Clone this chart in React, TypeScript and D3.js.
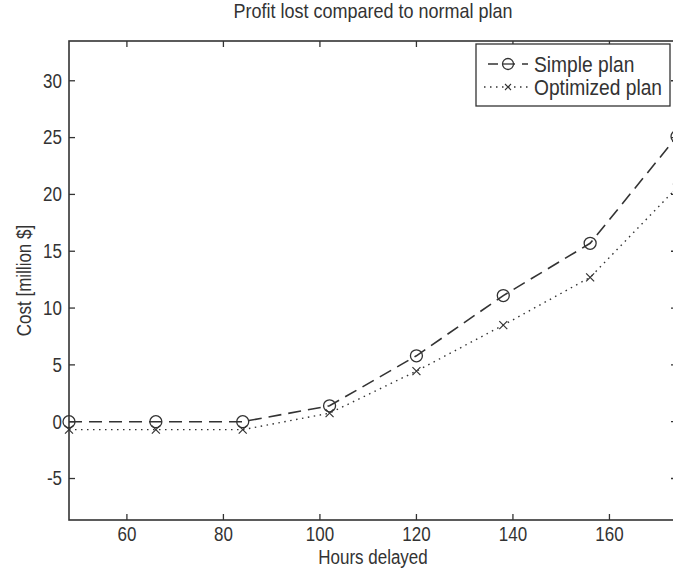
import React from "react";
import * as d3 from "d3";

const hours = [48, 66, 84, 102, 120, 138, 156, 174];
const simplePlan = [0, 0, 0, 1.4, 5.8, 11.1, 15.7, 25.1];
const optimizedPlan = [-0.7, -0.7, -0.7, 0.75, 4.45, 8.5, 12.7, 20.6];
const xTicks = [60, 80, 100, 120, 140, 160];
const yTicks = [-5, 0, 5, 10, 15, 20, 25, 30];
const seriesNames = ["Simple plan", "Optimized plan"];

const width = 673;
const height = 569;
const margin = {left: 69, right: -4, top: 41, bottom: 49};
const font = "'Liberation Sans', Arial, sans-serif";
const ink = "#333";

// MATLAB text looks a bit taller than Arial, stretch it vertically
function T(props: {x: number, y: number, size?: number, anchor?: string, rotate?: number, dy?: string, children: any}) {
    const s = props.size || 17;
    return (
        <text transform={`translate(${props.x},${props.y}) rotate(${props.rotate || 0}) scale(1,1.15)`}
              textAnchor={props.anchor || "start"} dy={props.dy} fontFamily={font} fontSize={s} fill={ink}>
            {props.children}
        </text>
    );
}

function App() {
    const x = d3.scaleLinear().domain([48, 174]).range([margin.left, width - margin.right]);
    const y = d3.scaleLinear().domain([-8.65, 33.5]).range([height - margin.bottom, margin.top]);
    const line = d3.line<number>()
        .x((d, i) => x(hours[i]))
        .y(d => y(d));

    const x0 = x.range()[0], x1 = x.range()[1];
    const y0 = y.range()[0], y1 = y.range()[1];
    const tick = 6;

    // legend box
    const lx = 476, ly = 44, lw = 194, lh = 62;

    return (
        <svg width={width} height={height} style={{position: "absolute", left: 0, top: 0, background: "#fff"}}>
            <rect x={0} y={0} width={width} height={height} fill="#fff"/>
            <T x={(x0 + x1) / 2} y={18} anchor="middle" size={18}>Profit lost compared to normal plan</T>

            {/* ticks on all four sides */}
            {xTicks.map(t => (
                <g key={"x" + t}>
                    <line x1={x(t)} x2={x(t)} y1={y0} y2={y0 - tick} stroke={ink} strokeWidth={1.3}/>
                    <line x1={x(t)} x2={x(t)} y1={y1} y2={y1 + tick} stroke={ink} strokeWidth={1.3}/>
                    <T x={x(t)} y={y0 + 21} anchor="middle">{t}</T>
                </g>
            ))}
            {yTicks.map(t => (
                <g key={"y" + t}>
                    <line x1={x0} x2={x0 + tick} y1={y(t)} y2={y(t)} stroke={ink} strokeWidth={1.3}/>
                    <line x1={x1} x2={x1 - tick} y1={y(t)} y2={y(t)} stroke={ink} strokeWidth={1.3}/>
                    <T x={x0 - 7} y={y(t)} dy="0.35em" anchor="end">{t}</T>
                </g>
            ))}

            <path d={line(optimizedPlan) || ""} fill="none" stroke={ink} strokeWidth={1.4}
                  strokeDasharray="1.5 4.5"/>
            <path d={line(simplePlan) || ""} fill="none" stroke={ink} strokeWidth={1.6}
                  strokeDasharray="13 7"/>
            {simplePlan.map((v, i) => (
                <circle key={"c" + i} cx={x(hours[i])} cy={y(v)} r={6} fill="none" stroke={ink} strokeWidth={1.3}/>
            ))}
            {optimizedPlan.map((v, i) => (
                <path key={"m" + i} transform={`translate(${x(hours[i])},${y(v)})`}
                      d="M-4,-4L4,4M-4,4L4,-4" stroke={ink} strokeWidth={1.2}/>
            ))}

            <rect x={x0} y={y1} width={x1 - x0} height={y0 - y1} fill="none" stroke={ink} strokeWidth={1.6}/>

            <T x={(x0 + x1) / 2} y={height - 5} anchor="middle">Hours delayed</T>
            <T x={24} y={(y0 + y1) / 2} anchor="middle" rotate={-90} dy="0.35em">Cost [million $]</T>

            <g>
                <rect x={lx} y={ly} width={lw} height={lh} fill="#fff" stroke={ink} strokeWidth={1.3}/>
                <line x1={lx + 12} x2={lx + 52} y1={ly + 20} y2={ly + 20} stroke={ink} strokeWidth={1.6} strokeDasharray="10 7"/>
                <circle cx={lx + 32} cy={ly + 20} r={5.5} fill="#fff" stroke={ink} strokeWidth={1.3}/>
                <line x1={lx + 32 - 6} x2={lx + 32 + 6} y1={ly + 20} y2={ly + 20} stroke={ink} strokeWidth={1.3}/>
                <T x={lx + 58} y={ly + 20} dy="0.35em" size={19.2}>{seriesNames[0]}</T>
                <line x1={lx + 8} x2={lx + 56} y1={ly + 43} y2={ly + 43} stroke={ink} strokeWidth={1.3} strokeDasharray="1.5 4.5"/>
                <path transform={`translate(${lx + 32},${ly + 43})`} d="M-3,-3L3,3M-3,3L3,-3" stroke={ink} strokeWidth={1.1}/>
                <T x={lx + 58} y={ly + 43} dy="0.35em" size={19.2}>{seriesNames[1]}</T>
            </g>
        </svg>
    );
}

export default App;
